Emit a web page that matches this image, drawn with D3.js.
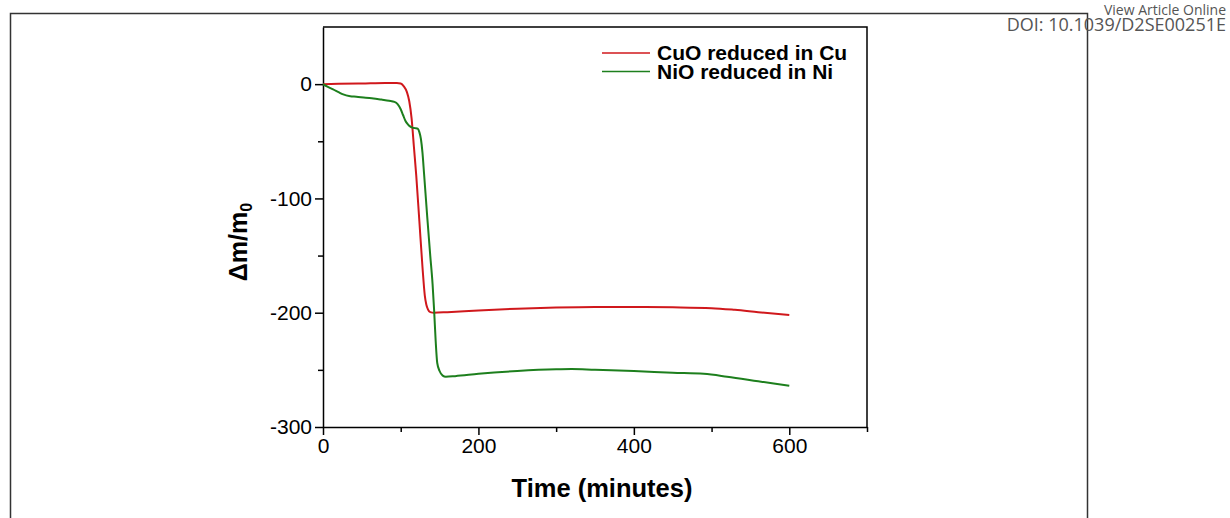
<!DOCTYPE html>
<html>
<head>
<meta charset="utf-8">
<script src="https://cdn.jsdelivr.net/npm/d3@7"></script>
<style>
  body { margin: 0; background: #fff; }
  svg { display: block; }
  .axis path, .axis line { stroke: #000; stroke-width: 1.5; }
  .axis text { font-family: "Liberation Sans", Arial, sans-serif; font-size: 21px; fill: #000; }
</style>
</head>
<body>
<div id="chart"></div>
<script>
const w = 1230;
const h = 518;
const margin = { top: 27, right: 363, bottom: 91, left: 323 };
const width = 867 - margin.left;
const height = 427 - margin.top;

// CuO reduced in Cu
const timeCuO = [0, 20, 50, 80, 95, 100, 104, 108, 111, 114, 117, 120, 124, 128, 131, 133, 135, 138, 143, 160, 200, 250, 300, 350, 400, 450, 500, 530, 560, 600];
const massCuO = [0, 0.3, 0.6, 1, 1, 0.5, -2, -7, -15, -30, -55, -80, -120, -160, -185, -193, -197, -199.5, -200, -199.5, -198, -196.5, -195.5, -195, -195, -195.3, -196, -197.5, -199.5, -202];

// NiO reduced in Ni
const timeNiO = [0, 5, 13, 20, 26, 35, 43, 55, 65, 75, 85, 92, 96, 100, 103, 106, 109, 112, 115, 118, 122, 124, 126, 128, 130, 134, 138, 141, 143, 145, 147, 150, 154, 158, 170, 200, 250, 300, 320, 350, 400, 450, 490, 520, 560, 600];
const massNiO = [0, -2, -4.5, -7, -9, -10.5, -11, -12, -12.5, -13.5, -14.5, -15.5, -17.5, -22, -27, -32, -35, -37, -38, -38.5, -39, -42, -48, -60, -78, -115, -150, -175, -198, -225, -244, -251, -255, -256, -255.5, -253.5, -251, -249.5, -249.3, -250, -251, -252.5, -253.5, -256, -260, -264];

const seriesNames = ["CuO reduced in Cu", "NiO reduced in Ni"];
const seriesColors = ["#d0181c", "#1d7f1d"];
const xTicks = [0, 200, 400, 600];
const xMinor = [100, 300, 500, 700];
const yTicks = [-300, -200, -100, 0];
const yMinor = [-250, -150, -50];

const series = [
  { name: seriesNames[0], color: seriesColors[0], values: timeCuO.map((t, i) => ({ t, v: massCuO[i] })) },
  { name: seriesNames[1], color: seriesColors[1], values: timeNiO.map((t, i) => ({ t, v: massNiO[i] })) }
];

const svg = d3.select('#chart').append('svg')
    .attr('width', w)
    .attr('height', h);

// page frame
svg.append('rect')
    .attr('x', 10.5)
    .attr('y', 13.5)
    .attr('width', 1077)
    .attr('height', 600)
    .attr('fill', 'none')
    .attr('stroke', '#333')
    .attr('stroke-width', 1.5);

svg.append('text')
    .attr('x', 1226)
    .attr('y', 15)
    .attr('text-anchor', 'end')
    .style('font-family', '"Open Sans", Lato, sans-serif')
    .style('font-size', '14px')
    .style('fill', '#555')
    .text('View Article Online');

svg.append('text')
    .attr('x', 1226)
    .attr('y', 31)
    .attr('text-anchor', 'end')
    .style('font-family', '"Open Sans", Lato, sans-serif')
    .style('font-size', '18px')
    .style('fill', '#555')
    .text('DOI: 10.1039/D2SE00251E');

const chart = svg.append('g')
    .attr('transform', `translate(${margin.left}, ${margin.top})`);

const x = d3.scaleLinear().domain([0, 700]).range([0, width]);
const y = d3.scaleLinear().domain([-300, 50]).range([height, 0]);

// minor ticks
chart.append('g')
    .classed('axis', true)
    .attr('transform', `translate(0, ${height})`)
    .call(d3.axisBottom(x).tickValues(xMinor).tickSize(5).tickFormat(''))
    .call(g => g.select('.domain').remove());

chart.append('g')
    .classed('axis', true)
    .call(d3.axisLeft(y).tickValues(yMinor).tickSize(5).tickFormat(''))
    .call(g => g.select('.domain').remove());

chart.append('g')
    .classed('axis', true)
    .attr('transform', `translate(0, ${height})`)
    .call(d3.axisBottom(x).tickValues(xTicks).tickSize(8).tickSizeOuter(0).tickPadding(3).tickFormat(d => String(d)));

chart.append('g')
    .classed('axis', true)
    .call(d3.axisLeft(y).tickValues(yTicks).tickSize(8).tickSizeOuter(0).tickPadding(3).tickFormat(d => String(d)));

// top and right frame
chart.append('path')
    .attr('d', `M0,0H${width}V${height}`)
    .attr('fill', 'none')
    .attr('stroke', '#000')
    .attr('stroke-width', 1.5);

const line = d3.line()
    .x(d => x(d.t))
    .y(d => y(d.v))
    .curve(d3.curveMonotoneX);

chart.selectAll('.series')
    .data(series)
    .enter().append('path')
      .attr('class', 'series')
      .attr('d', d => line(d.values))
      .attr('fill', 'none')
      .attr('stroke', d => d.color)
      .attr('stroke-width', 2);

// axis titles
svg.append('text')
    .attr('x', 602)
    .attr('y', 497)
    .attr('text-anchor', 'middle')
    .style('font-family', '"Liberation Sans", Arial, sans-serif')
    .style('font-weight', 'bold')
    .style('font-size', '25.5px')
    .text('Time (minutes)');

const yTitle = svg.append('text')
    .attr('transform', 'translate(247, 242) rotate(-90)')
    .attr('text-anchor', 'middle')
    .style('font-family', '"Liberation Sans", Arial, sans-serif')
    .style('font-weight', 'bold')
    .style('font-size', '25px');
yTitle.append('tspan').text('\u0394m/m');
yTitle.append('tspan').attr('dy', 5).style('font-size', '16px').text('0');

// legend
const legend = svg.append('g')
    .attr('transform', 'translate(602, 53)');

const item = legend.selectAll('g')
    .data(series)
    .enter().append('g')
      .attr('transform', (d, i) => `translate(0, ${i * 18.5})`);

item.append('line')
    .attr('x1', 0)
    .attr('x2', 48)
    .attr('stroke', d => d.color)
    .attr('stroke-width', 1.5);

item.append('text')
    .attr('x', 55)
    .attr('y', 7)
    .style('font-family', '"Liberation Sans", Arial, sans-serif')
    .style('font-weight', 'bold')
    .style('font-size', '21px')
    .text(d => d.name);
</script>
</body>
</html>
